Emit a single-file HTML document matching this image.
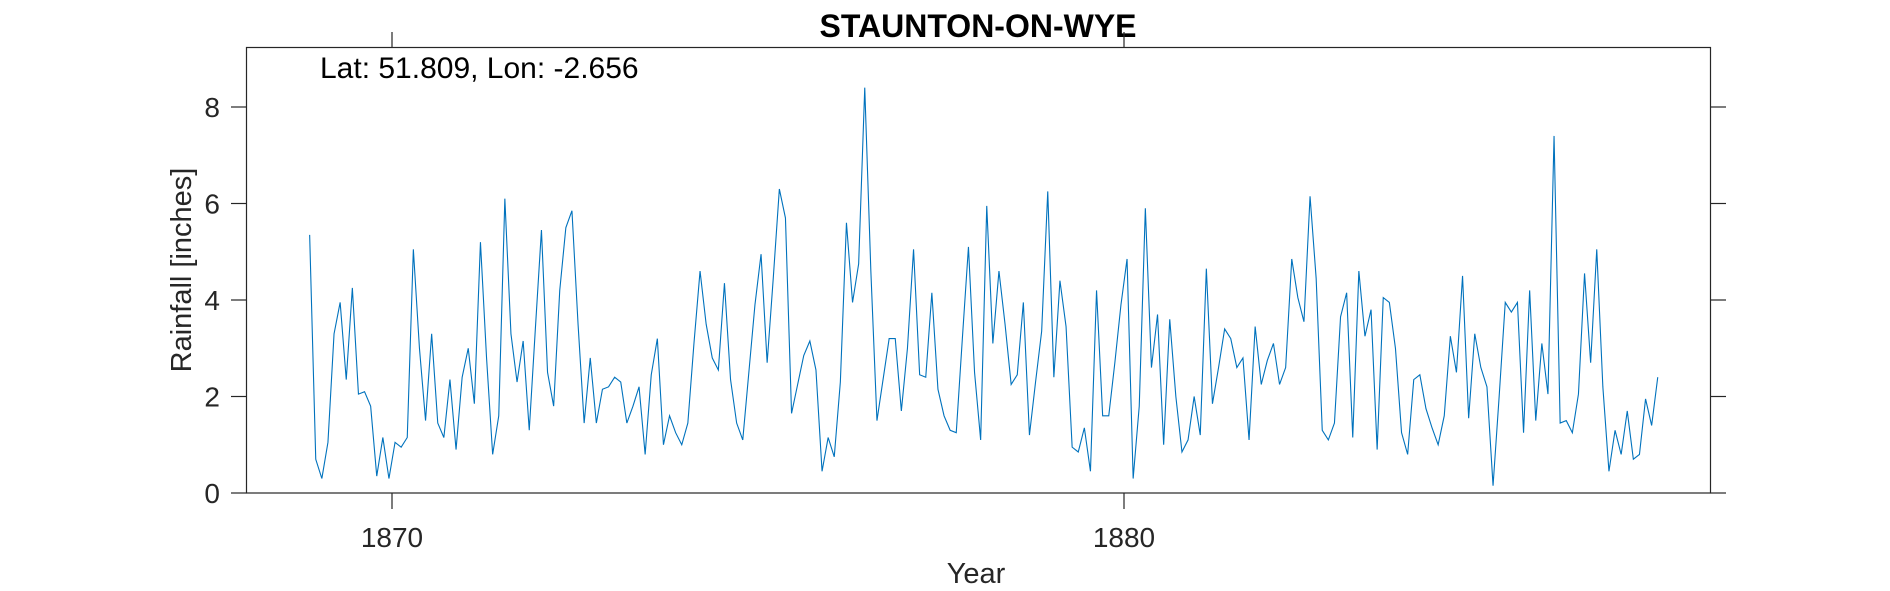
<!DOCTYPE html>
<html><head><meta charset="utf-8"><style>
html,body{margin:0;padding:0;background:#fff;}
svg{display:block;font-family:"Liberation Sans",sans-serif;}
</style></head><body>
<svg id="chart" width="1890" height="591" viewBox="0 0 1890 591" xmlns="http://www.w3.org/2000/svg">
<text x="978" y="37" text-anchor="middle" font-size="32" font-weight="bold">STAUNTON-ON-WYE</text>
<rect x="246.5" y="47.5" width="1464" height="445.5" fill="none" stroke="#262626" stroke-width="1.2"/>
<g id="yticks"></g><g id="xticks"></g>
<text x="320" y="78" font-size="30">Lat: 51.809, Lon: -2.656</text>
<text transform="translate(191,270) rotate(-90)" text-anchor="middle" font-size="29" fill="#262626">Rainfall [inches]</text>
<text x="976" y="583" text-anchor="middle" font-size="29" fill="#262626">Year</text>
<path id="series" fill="none" stroke="#0072BD" stroke-width="1.1"/>
</svg>
<script>
const startYear = 1868.875;
const values = [5.35,0.7,0.3,1.05,3.3,3.95,2.35,4.25,2.05,2.1,
1.8,0.35,1.15,0.3,1.05,0.95,1.15,5.05,3.0,1.5,
3.3,1.45,1.15,2.35,0.9,2.4,3.0,1.85,5.2,2.8,
0.8,1.6,6.1,3.3,2.3,3.15,1.3,3.4,5.45,2.5,
1.8,4.2,5.5,5.85,3.5,1.45,2.8,1.45,2.15,2.2,
2.4,2.3,1.45,1.8,2.2,0.8,2.45,3.2,1.0,1.6,
1.25,1.0,1.45,3.1,4.6,3.5,2.8,2.55,4.35,2.35,
1.45,1.1,2.5,3.9,4.95,2.7,4.45,6.3,5.7,1.65,
2.25,2.85,3.15,2.55,0.45,1.15,0.75,2.3,5.6,3.95,
4.75,8.4,4.6,1.5,2.35,3.2,3.2,1.7,3.0,5.05,
2.45,2.4,4.15,2.15,1.6,1.3,1.25,3.2,5.1,2.5,
1.1,5.95,3.1,4.6,3.5,2.25,2.45,3.95,1.2,2.3,
3.35,6.25,2.4,4.4,3.45,0.95,0.85,1.35,0.45,4.2,
1.6,1.6,2.7,3.9,4.85,0.3,1.8,5.9,2.6,3.7,
1.0,3.6,2.0,0.85,1.1,2.0,1.2,4.65,1.85,2.6,
3.4,3.2,2.6,2.8,1.1,3.45,2.25,2.75,3.1,2.25,
2.6,4.85,4.05,3.55,6.15,4.45,1.3,1.1,1.45,3.65,
4.15,1.15,4.6,3.25,3.8,0.9,4.05,3.95,3.0,1.25,
0.8,2.35,2.45,1.75,1.35,1.0,1.6,3.25,2.5,4.5,
1.55,3.3,2.6,2.2,0.15,2.0,3.95,3.75,3.95,1.25,
4.2,1.5,3.1,2.05,7.4,1.45,1.5,1.25,2.05,4.55,
2.7,5.05,2.2,0.45,1.3,0.8,1.7,0.7,0.8,1.95,
1.4,2.4];
const yTicks = [0,2,4,6,8];
const xTicks = [1870,1880];

const NS = "http://www.w3.org/2000/svg";
function xs(yr){ return 392 + (yr-1870)*73.2; }
function ys(v){ return 493 - v*48.25; }

const yg = document.getElementById('yticks');
yTicks.forEach(t=>{
  const y = ys(t);
  [[246.5,231],[1710.5,1726]].forEach(([a,b])=>{
    const l = document.createElementNS(NS,'line');
    l.setAttribute('x1',a);l.setAttribute('x2',b);l.setAttribute('y1',y);l.setAttribute('y2',y);
    l.setAttribute('stroke','#262626');l.setAttribute('stroke-width','1.2');
    
    
    yg.appendChild(l);
  });
  const tx = document.createElementNS(NS,'text');
  tx.setAttribute('x',220);tx.setAttribute('y',y+10);
  tx.setAttribute('text-anchor','end');tx.setAttribute('font-size','28');tx.setAttribute('fill','#262626');
  tx.textContent = t;
  
  
  yg.appendChild(tx);
});
const xg = document.getElementById('xticks');
xTicks.forEach(t=>{
  const x = xs(t);
  [[493,509],[47.5,32]].forEach(([a,b])=>{
    const l = document.createElementNS(NS,'line');
    l.setAttribute('x1',x);l.setAttribute('x2',x);l.setAttribute('y1',a);l.setAttribute('y2',b);
    l.setAttribute('stroke','#262626');l.setAttribute('stroke-width','1.2');
    
    
    xg.appendChild(l);
  });
  const tx = document.createElementNS(NS,'text');
  tx.setAttribute('x',x);tx.setAttribute('y',547);
  tx.setAttribute('text-anchor','middle');tx.setAttribute('font-size','28');tx.setAttribute('fill','#262626');
  tx.textContent = t;
  
  
  xg.appendChild(tx);
});
let d = '';
values.forEach((v,i)=>{
  d += (i?'L':'M') + xs(startYear + i/12).toFixed(2) + ',' + ys(v).toFixed(2);
});
document.getElementById('series').setAttribute('d', d);
</script>
</body></html>
